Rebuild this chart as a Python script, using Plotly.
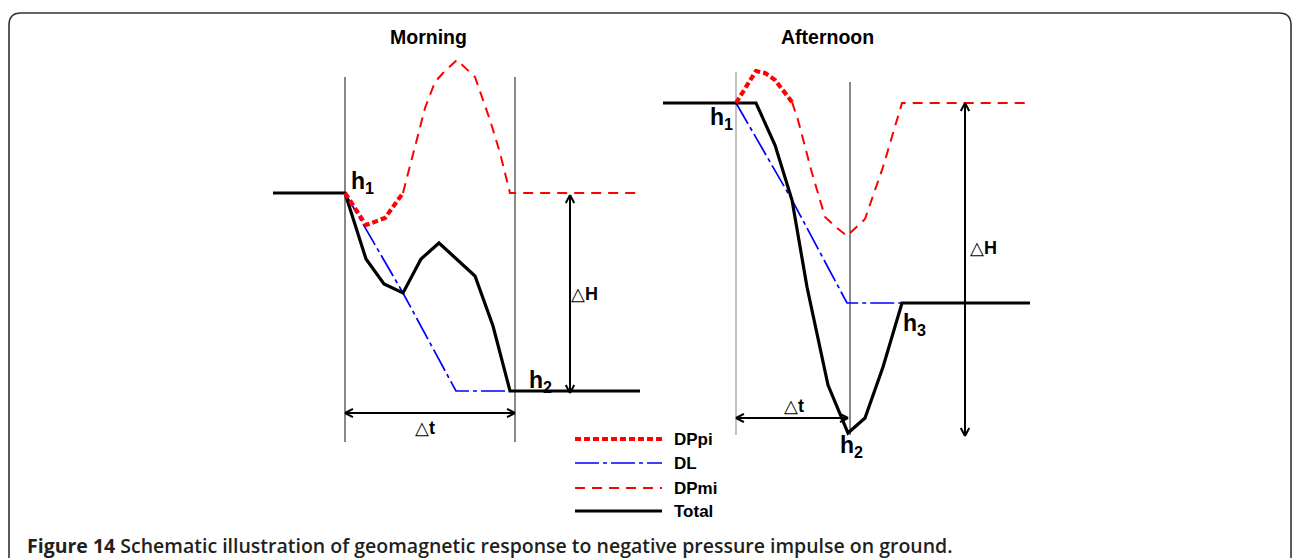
import math
import plotly.graph_objects as go

# ---- Schematic curves (plot units: x = time axis, y = field axis, downward positive) ----
# Morning event
morning_total_t = [273, 345, 366, 384, 403, 421, 439, 475, 493, 510, 640]
morning_total_h = [193, 193, 259, 284, 293, 259, 243, 276, 326, 391, 391]
morning_dl_t = [345, 403, 456, 510]
morning_dl_h = [193, 293, 391, 391]
morning_dppi_t = [345, 366, 385, 403]
morning_dppi_h = [193, 225, 218, 193]
morning_dpmi_t = [403, 417, 425, 435, 443, 457, 475, 490, 500, 510, 640]
morning_dpmi_h = [193, 140, 108, 82, 73, 60, 77, 120, 153, 193, 193]

# Afternoon event
afternoon_total_t = [663, 756, 775, 792, 807, 828, 848, 865, 883, 902, 1030]
afternoon_total_h = [103, 103, 145, 200, 287, 385, 433, 418, 367, 303, 303]
afternoon_dl_t = [736, 792, 847, 902]
afternoon_dl_h = [103, 200, 303, 303]
afternoon_dppi_t = [736, 756, 765, 775, 792]
afternoon_dppi_h = [103, 71, 73, 80, 102]
afternoon_dpmi_t = [792, 798, 812, 825, 837, 847, 865, 883, 902, 1030]
afternoon_dpmi_h = [102, 120, 173, 217, 228, 236, 219, 167, 103, 103]

# Onset / end guide lines: (t, h_top, h_bottom, colour)
guides = [
    (345, 77, 442, "#3a3a3a"),
    (515, 77, 442, "#3a3a3a"),
    (736, 72, 435, "#9a9a9a"),
    (850, 82, 435, "#3a3a3a"),
]

# Double-headed measurement arrows: (t0, h0, t1, h1)
arrows = [
    (570, 195, 570, 393),   # morning ΔH
    (345, 413, 515, 413),   # morning Δt
    (965, 103, 965, 436),   # afternoon ΔH
    (736, 418, 848, 418),   # afternoon Δt
]

# Text labels
panel_titles = [(428, 37, "Morning"), (827, 37, "Afternoon")]
level_labels = [
    (362, 182, "h<sub>1</sub>"),
    (540, 381, "h<sub>2</sub>"),
    (721, 118, "h<sub>1</sub>"),
    (851, 446, "h<sub>2</sub>"),
    (914, 324, "h<sub>3</sub>"),
]
delta_labels = [
    (584, 294, "△<b>H</b>"),
    (425, 428, "△<b>t</b>"),
    (983, 248, "△<b>H</b>"),
    (794, 406, "△<b>t</b>"),
]

series_names = ["DPpi", "DL", "DPmi", "Total"]
legend_rows = [439, 463, 488, 511]
legend_x0, legend_x1, legend_text_x = 575, 662, 672

caption_bold = "Figure 14"
caption_text = "Schematic illustration of geomagnetic response to negative pressure impulse on ground."

W, H = 1293, 558
FONT = "Arial, Liberation Sans, sans-serif"

styles = {
    "DPpi": dict(color="#ff0000", width=4.2, dash="6px,3px"),
    "DL": dict(color="#0000ff", width=1.7, dash="24px,4px,4px,4px"),
    "DPmi": dict(color="#ff0000", width=2.0, dash="10px,7px"),
    "Total": dict(color="#000000", width=3.2),
}

fig = go.Figure()

# Guide lines
for t, h0, h1, c in guides:
    fig.add_trace(go.Scatter(x=[t, t], y=[h0, h1], mode="lines",
                             line=dict(color=c, width=1.2), hoverinfo="skip"))

# Curves
curves = [
    ("DPmi", morning_dpmi_t, morning_dpmi_h),
    ("DPmi", afternoon_dpmi_t, afternoon_dpmi_h),
    ("DL", morning_dl_t, morning_dl_h),
    ("DL", afternoon_dl_t, afternoon_dl_h),
    ("Total", morning_total_t, morning_total_h),
    ("Total", afternoon_total_t, afternoon_total_h),
    ("DPpi", morning_dppi_t, morning_dppi_h),
    ("DPpi", afternoon_dppi_t, afternoon_dppi_h),
]
for name, t, h in curves:
    fig.add_trace(go.Scatter(x=t, y=h, mode="lines", line=styles[name],
                             name=name, hoverinfo="skip"))

# Measurement arrows with open V heads at both ends
HEAD_LEN, HEAD_ANG = 9, math.radians(28)
for t0, h0, t1, h1 in arrows:
    xs, ys = [t0, t1, None], [h0, h1, None]
    for (px, py), (qx, qy) in (((t1, h1), (t0, h0)), ((t0, h0), (t1, h1))):
        ang = math.atan2(qy - py, qx - px)
        for s in (1, -1):
            a = ang + s * HEAD_ANG
            xs += [qx, qx - HEAD_LEN * math.cos(a), None]
            ys += [qy, qy - HEAD_LEN * math.sin(a), None]
    fig.add_trace(go.Scatter(x=xs, y=ys, mode="lines",
                             line=dict(color="#000000", width=2), hoverinfo="skip"))

# Legend samples
for name, yrow in zip(series_names, legend_rows):
    fig.add_trace(go.Scatter(x=[legend_x0, legend_x1], y=[yrow, yrow], mode="lines",
                             line=styles[name], hoverinfo="skip"))
    fig.add_annotation(x=legend_text_x, y=yrow, text=f"<b>{name}</b>", showarrow=False,
                       xanchor="left", yanchor="middle",
                       font=dict(family=FONT, size=17, color="#000000"))

for t, h, txt in panel_titles:
    fig.add_annotation(x=t, y=h, text=f"<b>{txt}</b>", showarrow=False,
                       font=dict(family=FONT, size=19.5, color="#000000"))
for t, h, txt in level_labels:
    fig.add_annotation(x=t, y=h, text=f"<b>{txt}</b>", showarrow=False,
                       font=dict(family=FONT, size=23, color="#000000"))
for t, h, txt in delta_labels:
    fig.add_annotation(x=t, y=h, text=txt, showarrow=False,
                       font=dict(family=FONT, size=18, color="#000000"))

fig.add_annotation(x=25, y=545, text=f"<b>{caption_bold}</b> {caption_text}",
                   showarrow=False, xanchor="left", yanchor="middle",
                   font=dict(family="Open Sans, sans-serif", size=19.5, weight=600,
                             color="#231f20"))

# Rounded frame
r = 12
fig.add_shape(type="path",
              path=f"M 9,{H + 5} L 9,{13 + r} Q 9,13 {9 + r},13 L {1291 - r},13 "
                   f"Q 1291,13 1291,{13 + r} L 1291,{H + 5}",
              line=dict(color="#333333", width=1.6), xref="x", yref="y")

fig.update_layout(
    width=W, height=H, margin=dict(l=0, r=0, t=0, b=0),
    paper_bgcolor="white", plot_bgcolor="white", showlegend=False,
    xaxis=dict(range=[0, W], visible=False, fixedrange=True),
    yaxis=dict(range=[H, 0], visible=False, fixedrange=True),
)

fig.write_html("out.html")
